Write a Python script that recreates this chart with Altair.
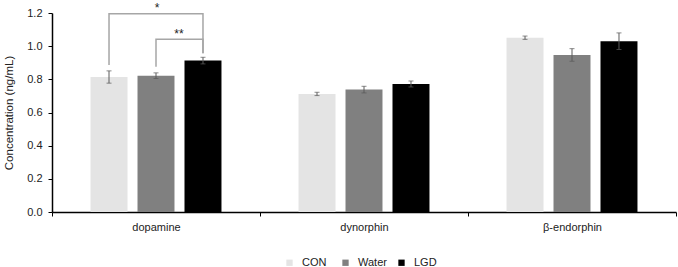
import altair as alt
import pandas as pd

categories = ["dopamine", "dynorphin", "β-endorphin"]
groups = ["CON", "Water", "LGD"]
con_vals = [0.814, 0.712, 1.051]
water_vals = [0.822, 0.738, 0.947]
lgd_vals = [0.913, 0.772, 1.030]
con_err = [0.037, 0.010, 0.010]
water_err = [0.017, 0.020, 0.038]
lgd_err = [0.020, 0.018, 0.050]
colors = ["#e4e4e4", "#808080", "#000000"]
y_ticks = [0.0, 0.2, 0.4, 0.6, 0.8, 1.0, 1.2]

# significance brackets (dopamine): leg bottoms and bracket heights
br_id = ["a", "a", "a", "a", "b", "b", "b", "b"]
br_group = ["CON", "CON", "LGD", "LGD", "Water", "Water", "LGD", "LGD"]
br_y = [0.887, 1.195, 1.195, 0.957, 0.876, 1.042, 1.042, 0.957]
br_order = [0, 1, 2, 3, 0, 1, 2, 3]
sig_text = ["*", "**"]
sig_y = [1.205, 1.052]

rows = []
for g, vals, errs in zip(groups, [con_vals, water_vals, lgd_vals], [con_err, water_err, lgd_err]):
    for c, v, e in zip(categories, vals, errs):
        rows.append({"cat": c, "grp": g, "val": v, "lo": v - e, "hi": v + e})
df = pd.DataFrame(rows)

br_df = pd.DataFrame({"cat": ["dopamine"] * len(br_id), "grp": br_group, "y": br_y,
                      "id": br_id, "o": br_order})
sig1 = pd.DataFrame({"cat": ["dopamine"], "grp": ["Water"], "y": [sig_y[0]], "t": [sig_text[0]]})
sig2 = pd.DataFrame({"cat": ["dopamine"], "grp": ["Water"], "y": [sig_y[1]], "t": [sig_text[1]]})

FONT = "Liberation Sans"
TITLE = "Concentration (ng/mL)"

x_axis = alt.Axis(labelAngle=0, tickBand="extent", domainColor="#000000",
                  tickColor="#000000", domainWidth=1.5, tickSize=4,
                  labelPadding=5, labelFontSize=11, labelColor="#222222",
                  labelFont=FONT)
y_axis = alt.Axis(values=y_ticks, format=".1f", labelOverlap=False,
                  grid=False, domainColor="#000000", tickColor="#000000",
                  domainWidth=1.5, tickSize=4, labelPadding=6,
                  labelFontSize=11, labelColor="#222222", labelFont=FONT,
                  titleFontSize=11.5, titleFontWeight="normal",
                  titleColor="#222222", titleFont=FONT, titlePadding=12)
x_enc = alt.X("cat:N", sort=categories, title=None,
              scale=alt.Scale(paddingInner=0, paddingOuter=0), axis=x_axis)
xo = alt.XOffset("grp:N", sort=groups,
                 scale=alt.Scale(paddingInner=0.213, paddingOuter=0.82))
y_scale = alt.Scale(domain=[0, 1.2])


def yq(field):
    return alt.Y(field, scale=y_scale, title=TITLE, axis=y_axis)


bars = alt.Chart(df).mark_bar().encode(
    x=x_enc,
    xOffset=xo,
    y=yq("val:Q"),
    color=alt.Color("grp:N", sort=groups, title=None,
                    scale=alt.Scale(domain=groups, range=colors),
                    legend=alt.Legend(orient="none", direction="horizontal",
                                      legendX=232, legendY=244, columns=3,
                                      gridAlign="all",
                                      symbolType="square", symbolSize=40,
                                      symbolStrokeWidth=0, labelFontSize=11,
                                      labelFont=FONT, labelColor="#222222",
                                      labelOffset=7, columnPadding=9)),
)

err_rule = alt.Chart(df).mark_rule(color="#5a5a5a", strokeWidth=1).encode(
    x=x_enc, xOffset=xo, y=yq("lo:Q"), y2="hi:Q")
cap_lo = alt.Chart(df).mark_tick(color="#5a5a5a", size=5, thickness=1, orient="horizontal").encode(
    x=x_enc, xOffset=xo, y=yq("lo:Q"))
cap_hi = alt.Chart(df).mark_tick(color="#5a5a5a", size=5, thickness=1, orient="horizontal").encode(
    x=x_enc, xOffset=xo, y=yq("hi:Q"))

brackets = alt.Chart(br_df).mark_line(color="#a6a6a6", strokeWidth=1.5, interpolate="linear").encode(
    x=x_enc, xOffset=xo, y=yq("y:Q"), detail="id:N", order="o:Q")

t1 = alt.Chart(sig1).mark_text(fontSize=12, font=FONT, color="#222222", baseline="alphabetic", dx=1).encode(
    x=x_enc, xOffset=xo, y=yq("y:Q"), text="t:N")
t2 = alt.Chart(sig2).mark_text(fontSize=12, font=FONT, color="#222222", baseline="alphabetic", dx=23).encode(
    x=x_enc, xOffset=xo, y=yq("y:Q"), text="t:N")

chart = alt.layer(bars, err_rule, cap_lo, cap_hi, brackets, t1, t2).properties(
    width=624, height=199,
    autosize=alt.AutoSizeParams(type="none"),
    padding={"left": 52, "top": 13, "right": 2, "bottom": 55},
    background="white",
).configure_view(stroke=None)

chart.save("out.html", embed_options={"renderer": "svg", "actions": False})
